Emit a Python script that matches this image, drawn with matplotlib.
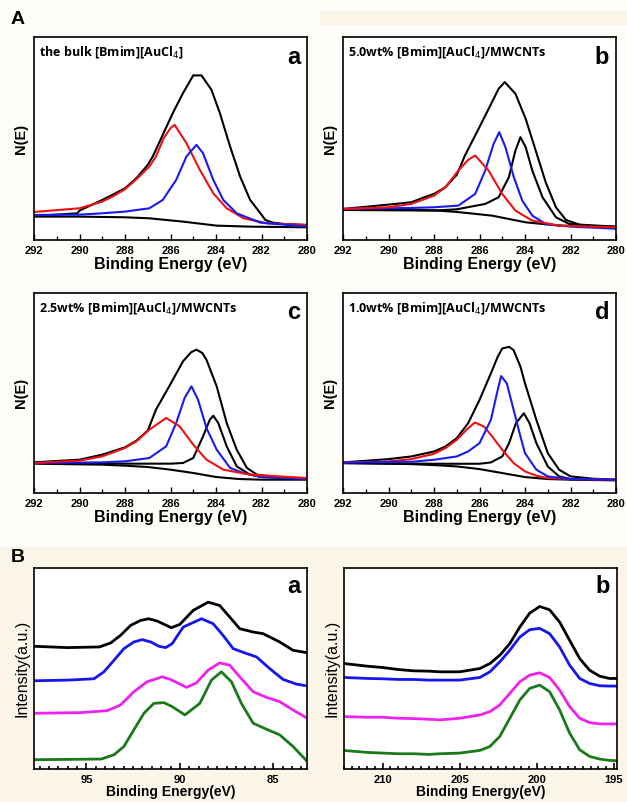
import numpy as np
import matplotlib
matplotlib.use("Agg")
import matplotlib.pyplot as plt
import matplotlib.patches as patches
from matplotlib.ticker import MultipleLocator

# ---------------- A: C 1s spectra ----------------
# panel a: the bulk [Bmim][AuCl4]
aa_env_e = [292, 290.1, 290, 289, 288.5, 288, 287.5, 287, 286.78, 286.34, 285.9, 285.45, 285.0, 284.64,
            284.2, 283.83, 283.38, 282.94, 282.5, 282.05, 281.83, 281.5, 281, 280]
aa_env_i = [72, 80, 88, 120, 137, 155, 185, 225, 250, 315, 380, 440, 493, 493,
            450, 380, 280, 190, 120, 80, 60, 52, 48, 45]
aa_red_e = [292, 290, 289, 288.5, 288, 287.5, 286.93, 286.64, 286.3, 286.0, 285.82, 285.3, 284.71, 284.12,
            283.53, 282.79, 281.75, 280]
aa_red_i = [84, 95, 115, 132, 152, 182, 220, 250, 305, 335, 345, 290, 210, 140, 95, 65, 50, 45]
aa_blue_e = [292, 290, 289, 288, 286.93, 286.34, 285.75, 285.3, 284.86, 284.57, 284.12, 283.68, 283.09, 282.05, 280]
aa_blue_i = [75, 76, 80, 85, 95, 120, 180, 250, 285, 260, 180, 120, 80, 52, 40]
aa_base_e = [292, 290, 288, 286.93, 285.45, 283.97, 282.5, 280]
aa_base_i = [70, 70, 68, 65, 55, 43, 40, 38]

# panel b: 5.0wt%
ab_env_e = [292, 290, 289, 288.5, 288, 287.5, 287, 286.64, 286.04, 285.45, 285.16, 284.89, 284.42, 283.97,
            283.53, 283.09, 282.64, 282.2, 281.6, 280]
ab_env_i = [93, 106, 113, 126, 138, 158, 195, 253, 333, 413, 453, 473, 438, 363, 268, 173, 98, 60, 46, 40]
ab_red_e = [292, 290, 289, 288, 287.5, 286.93, 286.5, 286.19, 285.6, 285.0, 284.42, 283.68, 282.5, 281, 280]
ab_red_i = [93, 98, 108, 133, 158, 208, 240, 253, 208, 138, 88, 58, 43, 40, 38]
ab_blue_e = [292, 289, 288, 286.93, 286.19, 285.75, 285.38, 285.13, 284.86, 284.49, 284.12, 283.68, 283.09, 282, 280]
ab_blue_i = [93, 96, 98, 103, 138, 208, 288, 323, 278, 188, 118, 73, 48, 40, 34]
ab_comp_e = [292, 288, 287, 285.75, 285.16, 284.71, 284.42, 284.2, 283.97, 283.68, 283.23, 282.64, 282.05, 280]
ab_comp_i = [90, 88, 92, 108, 128, 188, 268, 308, 278, 208, 128, 68, 48, 36]
ab_base_e = [292, 289, 288, 287, 285.45, 283.97, 282.5, 280]
ab_base_i = [92, 90, 89, 84, 73, 53, 43, 40]

# panel c: 2.5wt%
ac_env_e = [292, 290, 289, 288, 287.5, 287, 286.64, 286.04, 285.45, 285.1, 284.86, 284.6, 284.42, 283.97,
            283.53, 283.09, 282.64, 282.2, 281, 280]
ac_env_i = [92, 100, 115, 137, 157, 187, 250, 322, 395, 422, 430, 420, 400, 320, 210, 130, 75, 55, 45, 42]
ac_red_e = [292, 290, 289, 288, 287.5, 286.93, 286.19, 285.6, 285.0, 284.42, 283.68, 282.5, 280]
ac_red_i = [90, 97, 110, 135, 155, 190, 225, 200, 145, 100, 70, 55, 45]
ac_blue_e = [292, 289, 288, 286.93, 286.19, 285.75, 285.38, 285.08, 284.79, 284.42, 283.97, 283.38, 282.79, 282, 280]
ac_blue_i = [90, 92, 95, 105, 140, 210, 285, 320, 280, 195, 130, 75, 60, 48, 42]
ac_comp_e = [292, 288, 286, 285.45, 285.0, 284.57, 284.27, 284.12, 283.9, 283.53, 283.09, 282.5, 282, 280]
ac_comp_i = [90, 88, 88, 90, 105, 170, 220, 232, 210, 140, 80, 55, 48, 42]
ac_base_e = [292, 289, 288, 287, 286, 285, 284, 283, 282, 280]
ac_base_i = [88, 85, 82, 78, 70, 60, 48, 42, 40, 40]

# panel d: 1.0wt%
ad_env_e = [292, 290, 289, 288, 287.5, 287, 286.5, 286, 285.5, 285.2, 285, 284.7, 284.5, 284.2, 284,
            283.5, 283, 282.5, 282, 281, 280]
ad_env_i = [92, 102, 110, 125, 140, 165, 210, 280, 360, 410, 435, 440, 430, 380, 330, 220, 120, 70, 50, 43, 40]
ad_red_e = [292, 290, 289, 288, 287.5, 287, 286.5, 286.2, 285.8, 285.5, 285, 284.5, 284, 283.5, 283, 282, 280]
ad_red_i = [92, 95, 102, 118, 135, 160, 195, 212, 200, 175, 130, 90, 65, 52, 45, 42, 40]
ad_blue_e = [292, 289, 288, 287, 286.5, 286, 285.5, 285.2, 285.05, 284.8, 284.5, 284.2, 284, 283.5, 283, 282, 280]
ad_blue_i = [92, 94, 100, 110, 125, 150, 220, 310, 352, 330, 250, 170, 120, 70, 50, 42, 40]
ad_comp_e = [292, 288, 286, 285.5, 285, 284.7, 284.4, 284.05, 283.8, 283.5, 283, 282.5, 282, 280]
ad_comp_i = [90, 88, 88, 92, 110, 150, 210, 240, 210, 150, 80, 50, 42, 40]
ad_base_e = [292, 289, 288, 287, 286, 285, 284, 283, 282, 280]
ad_base_i = [90, 87, 84, 80, 72, 60, 48, 42, 40, 38]

a_titles = ["the bulk [Bmim][AuCl$_4$]", "5.0wt% [Bmim][AuCl$_4$]/MWCNTs",
            "2.5wt% [Bmim][AuCl$_4$]/MWCNTs", "1.0wt% [Bmim][AuCl$_4$]/MWCNTs"]

# ---------------- B: Au 4f and N 1s ----------------
ba_black_e = [97.8, 96.0, 94.3, 93.7, 93.17, 92.63, 92.1, 91.66, 91.21, 90.68, 90.45, 90.0, 89.29, 88.49,
              87.87, 87.33, 86.8, 86.08, 85.55, 84.66, 83.95, 83.24]
ba_black = [370, 366, 368, 380, 403, 433, 448, 453, 446, 432, 426, 436, 478, 503,
            493, 458, 423, 413, 408, 383, 358, 351]
ba_blue_e = [97.8, 96.0, 94.59, 94.06, 93.52, 92.99, 92.46, 92.01, 91.56, 91.12, 90.76, 90.41, 89.82, 88.84,
             88.22, 87.69, 87.15, 86.53, 85.9, 85.2, 84.48, 83.77, 83.24]
ba_blue = [266, 268, 272, 293, 328, 363, 383, 390, 383, 370, 366, 378, 428, 453,
           438, 403, 363, 350, 338, 303, 270, 256, 251]
ba_magenta_e = [97.8, 95.3, 93.88, 93.17, 92.46, 91.75, 90.94, 90.5, 89.64, 89.11, 88.49, 87.87, 87.33, 86.8,
                86.08, 85.37, 84.66, 83.95, 83.24]
ba_magenta = [168, 170, 176, 193, 233, 263, 278, 270, 246, 260, 298, 320, 313, 278,
              233, 216, 203, 178, 155]
ba_green_e = [97.8, 94.2, 93.52, 92.99, 92.46, 91.92, 91.39, 90.85, 90.41, 89.73, 88.93, 88.31, 87.78, 87.24,
              86.71, 86.08, 85.37, 84.66, 83.95, 83.24]
ba_green = [28, 30, 43, 68, 118, 168, 198, 200, 188, 163, 198, 268, 293, 263,
            198, 138, 120, 103, 68, 26]

bb_e = [212.5, 211, 210, 209, 208, 207, 206.28, 205, 203.69, 203.04, 202.4, 201.75, 201.1, 200.46,
        199.81, 199.17, 198.52, 197.87, 197.22, 196.58, 195.93, 195.28, 194.8]
bb_black = [318, 310, 306, 300, 296, 295, 293, 293, 303, 318, 343, 378, 428, 470,
            490, 480, 443, 388, 333, 298, 280, 273, 273]
bb_blue = [276, 273, 272, 270, 270, 268, 268, 268, 276, 293, 323, 358, 398, 420,
           424, 408, 368, 313, 273, 258, 251, 250, 250]
bb_magenta = [158, 156, 156, 153, 152, 150, 148, 153, 163, 173, 193, 228, 263, 283,
              290, 276, 238, 188, 153, 140, 136, 136, 136]
bb_green = [56, 50, 48, 46, 46, 44, 46, 48, 56, 68, 98, 153, 208, 243,
            253, 233, 178, 108, 58, 38, 30, 26, 25]

W, H = 627, 802
fig = plt.figure(figsize=(W / 100, H / 100), dpi=100, facecolor="#fffefb")
plt.rcParams['font.family'] = ['Liberation Sans', 'DejaVu Sans']

# cream background behind the B part
fig.patches.append(patches.Rectangle((0, 0), 1, 255 / H, transform=fig.transFigure,
                                     facecolor="#fcf6e8", edgecolor="none", zorder=-5))
fig.patches.append(patches.Rectangle((320 / W, 1 - 25 / H), 1, 14 / H, transform=fig.transFigure,
                                     facecolor="#fcf6e8", edgecolor="none", zorder=-5))


def px_axes(x0, y0, x1, y1):
    return fig.add_axes([x0 / W, 1 - y1 / H, (x1 - x0) / W, (y1 - y0) / H])


def style_a(ax, title, letter, ylim):
    ax.set_xlim(292, 280)
    ax.set_ylim(0, ylim)
    ax.xaxis.set_major_locator(MultipleLocator(2))
    ax.xaxis.set_minor_locator(MultipleLocator(1))
    ax.tick_params(axis='x', which='both', direction='in', top=False, labelsize=8, pad=4)
    ax.tick_params(axis='x', which='major', length=4, width=1)
    ax.tick_params(axis='x', which='minor', length=3, width=1)
    ax.set_yticks([])
    for lab in ax.get_xticklabels():
        lab.set_fontweight('bold')
    ax.set_xlabel("Binding Energy (eV)", fontsize=11.5, fontweight='bold', labelpad=1)
    ax.set_ylabel("N(E)", fontsize=10.5, fontweight='bold', labelpad=4)
    for s in ax.spines.values():
        s.set_linewidth(1.2)
    ax.text(0.02, 0.925, title, transform=ax.transAxes, fontsize=9, fontweight='bold',
            family=['Open Sans', 'DejaVu Sans'], va='center', ha='left')
    ax.text(0.975, 0.9, letter, transform=ax.transAxes, fontsize=17, fontweight='bold',
            va='center', ha='right')


lw = 1.5
red = '#ee1111'
blue = '#1a1aee'
# Aa
ax = px_axes(34, 37, 307, 240)
ax.plot(aa_base_e, aa_base_i, color='black', lw=lw)
ax.plot(aa_env_e, aa_env_i, color='black', lw=lw)
ax.plot(aa_red_e, aa_red_i, color=red, lw=lw)
ax.plot(aa_blue_e, aa_blue_i, color=blue, lw=lw)
style_a(ax, a_titles[0], 'a', 608)

# Ab
ax = px_axes(343, 37, 616, 240)
ax.plot(ab_base_e, ab_base_i, color='black', lw=lw)
ax.plot(ab_env_e, ab_env_i, color='black', lw=lw)
ax.plot(ab_comp_e, ab_comp_i, color='black', lw=lw)
ax.plot(ab_blue_e, ab_blue_i, color=blue, lw=lw)
ax.plot(ab_red_e, ab_red_i, color=red, lw=lw)
style_a(ax, a_titles[1], 'b', 608)

# Ac
ax = px_axes(34, 293, 307, 493)
ax.plot(ac_base_e, ac_base_i, color='black', lw=lw)
ax.plot(ac_env_e, ac_env_i, color='black', lw=lw)
ax.plot(ac_comp_e, ac_comp_i, color='black', lw=lw)
ax.plot(ac_blue_e, ac_blue_i, color=blue, lw=lw)
ax.plot(ac_red_e, ac_red_i, color=red, lw=lw)
style_a(ax, a_titles[2], 'c', 600)

# Ad
ax = px_axes(343, 293, 616, 493)
ax.plot(ad_base_e, ad_base_i, color='black', lw=lw)
ax.plot(ad_env_e, ad_env_i, color='black', lw=lw)
ax.plot(ad_comp_e, ad_comp_i, color='black', lw=lw)
ax.plot(ad_red_e, ad_red_i, color=red, lw=lw)
ax.plot(ad_blue_e, ad_blue_i, color=blue, lw=lw)
style_a(ax, a_titles[3], 'd', 602)


def style_b(ax, xlim, letter):
    ax.set_xlim(*xlim)
    ax.set_ylim(0, 606)
    ax.xaxis.set_major_locator(MultipleLocator(5))
    ax.xaxis.set_minor_locator(MultipleLocator(0.5))
    ax.tick_params(axis='x', which='both', direction='in', top=False, labelsize=8, pad=4)
    ax.tick_params(axis='x', which='major', length=4, width=1.2)
    ax.tick_params(axis='x', which='minor', length=2.5, width=1.2)
    ax.set_yticks([])
    for lab in ax.get_xticklabels():
        lab.set_fontweight('bold')
    # the reference crops this label at the bottom edge; keep it just inside
    ax.set_xlabel("Binding Energy(eV)", fontsize=10, fontweight='bold', labelpad=0)
    ax.set_ylabel("Intensity(a.u.)", fontsize=11.5, labelpad=3)
    for s in ax.spines.values():
        s.set_linewidth(1.2)
    ax.text(0.975, 0.91, letter, transform=ax.transAxes, fontsize=17, fontweight='bold',
            va='center', ha='right')


lwb = 2.0
b_colors = ['black', '#1515ee', '#ee22ee', '#1a7a1a']
# Ba
ax = px_axes(34, 568, 307, 769)
ba_series = [(ba_black_e, ba_black), (ba_blue_e, ba_blue), (ba_magenta_e, ba_magenta), (ba_green_e, ba_green)]
for (xs, ys), c in zip(ba_series, b_colors):
    ax.plot(xs, ys, color=c, lw=lwb)
style_b(ax, (97.8, 83.2), 'a')

# Bb
ax = px_axes(344, 568, 617, 769)
for ys, c in zip([bb_black, bb_blue, bb_magenta, bb_green], b_colors):
    ax.plot(bb_e, ys, color=c, lw=lwb)
style_b(ax, (212.5, 194.8), 'b')

fig.text(11 / W, 1 - 20 / H, "A", fontsize=14, fontweight='bold', va='center', ha='left')
fig.text(11 / W, 1 - 557 / H, "B", fontsize=14, fontweight='bold', va='center', ha='left')

fig.savefig("out.png", dpi=100, facecolor=fig.get_facecolor())
